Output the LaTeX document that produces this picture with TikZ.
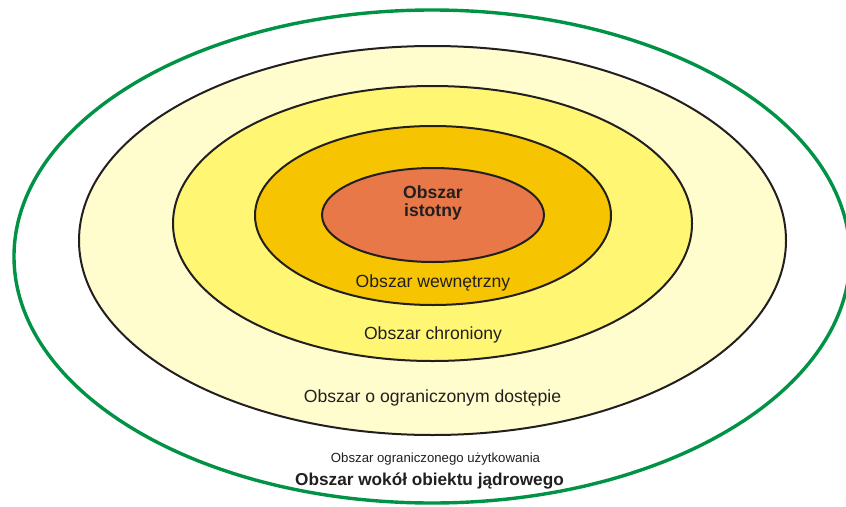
\documentclass[tikz,border=0pt]{standalone}
\usepackage{fontspec}
\setmainfont{Liberation Sans}
\definecolor{zcore}{RGB}{232,120,72}
\definecolor{zinner}{RGB}{246,196,0}
\definecolor{zprot}{RGB}{255,246,115}
\definecolor{zlim}{RGB}{255,253,205}
\definecolor{zgreen}{RGB}{0,146,69}
\definecolor{ztext}{RGB}{35,31,32}
\tikzset{
  zone/.style={draw=ztext, line width=2pt},
  lbl/.style={anchor=base, inner sep=0pt, text=ztext, font=\fontsize{17.6}{18.5}\selectfont, align=center},
  smalllbl/.style={anchor=base, inner sep=0pt, text=ztext, font=\fontsize{13.2}{15}\selectfont},
}
\begin{document}
\begin{tikzpicture}[x=1pt,y=-1pt]
\useasboundingbox (0,0) rectangle (846,506);
\clip (0,0) rectangle (846,506);
\fill[white] (0,0) rectangle (846,506);
% outer green boundary
\draw[zgreen, line width=3.4pt] (432,256.5) ellipse [x radius=418, y radius=246.5];
% zones
\draw[zone, fill=zlim]   (432.5,240.5) ellipse [x radius=353.5, y radius=194.5];
\draw[zone, fill=zprot]  (432.5,223.5) ellipse [x radius=259.5, y radius=137.5];
\draw[zone, fill=zinner] (433,215.5)   ellipse [x radius=178,   y radius=89.5];
\draw[zone, fill=zcore]  (433,215)     ellipse [x radius=111,   y radius=47];
% labels
\node[lbl, font=\fontsize{17.6}{18.5}\selectfont\bfseries] (core) at (433,216.5) {Obszar\\istotny};
\node[lbl] (inner) at (433,287.5) {Obszar wewnętrzny};
\node[lbl] (prot) at (433,339) {Obszar chroniony};
\node[lbl] (lim) at (432.5,402) {Obszar o ograniczonym dostępie};
\node[smalllbl] (use) at (435.5,462.7) {Obszar ograniczonego użytkowania};
\node[lbl, font=\fontsize{17.2}{18.5}\selectfont\bfseries] (area) at (429.5,485) {Obszar wokół obiektu jądrowego};
\end{tikzpicture}
\end{document}
